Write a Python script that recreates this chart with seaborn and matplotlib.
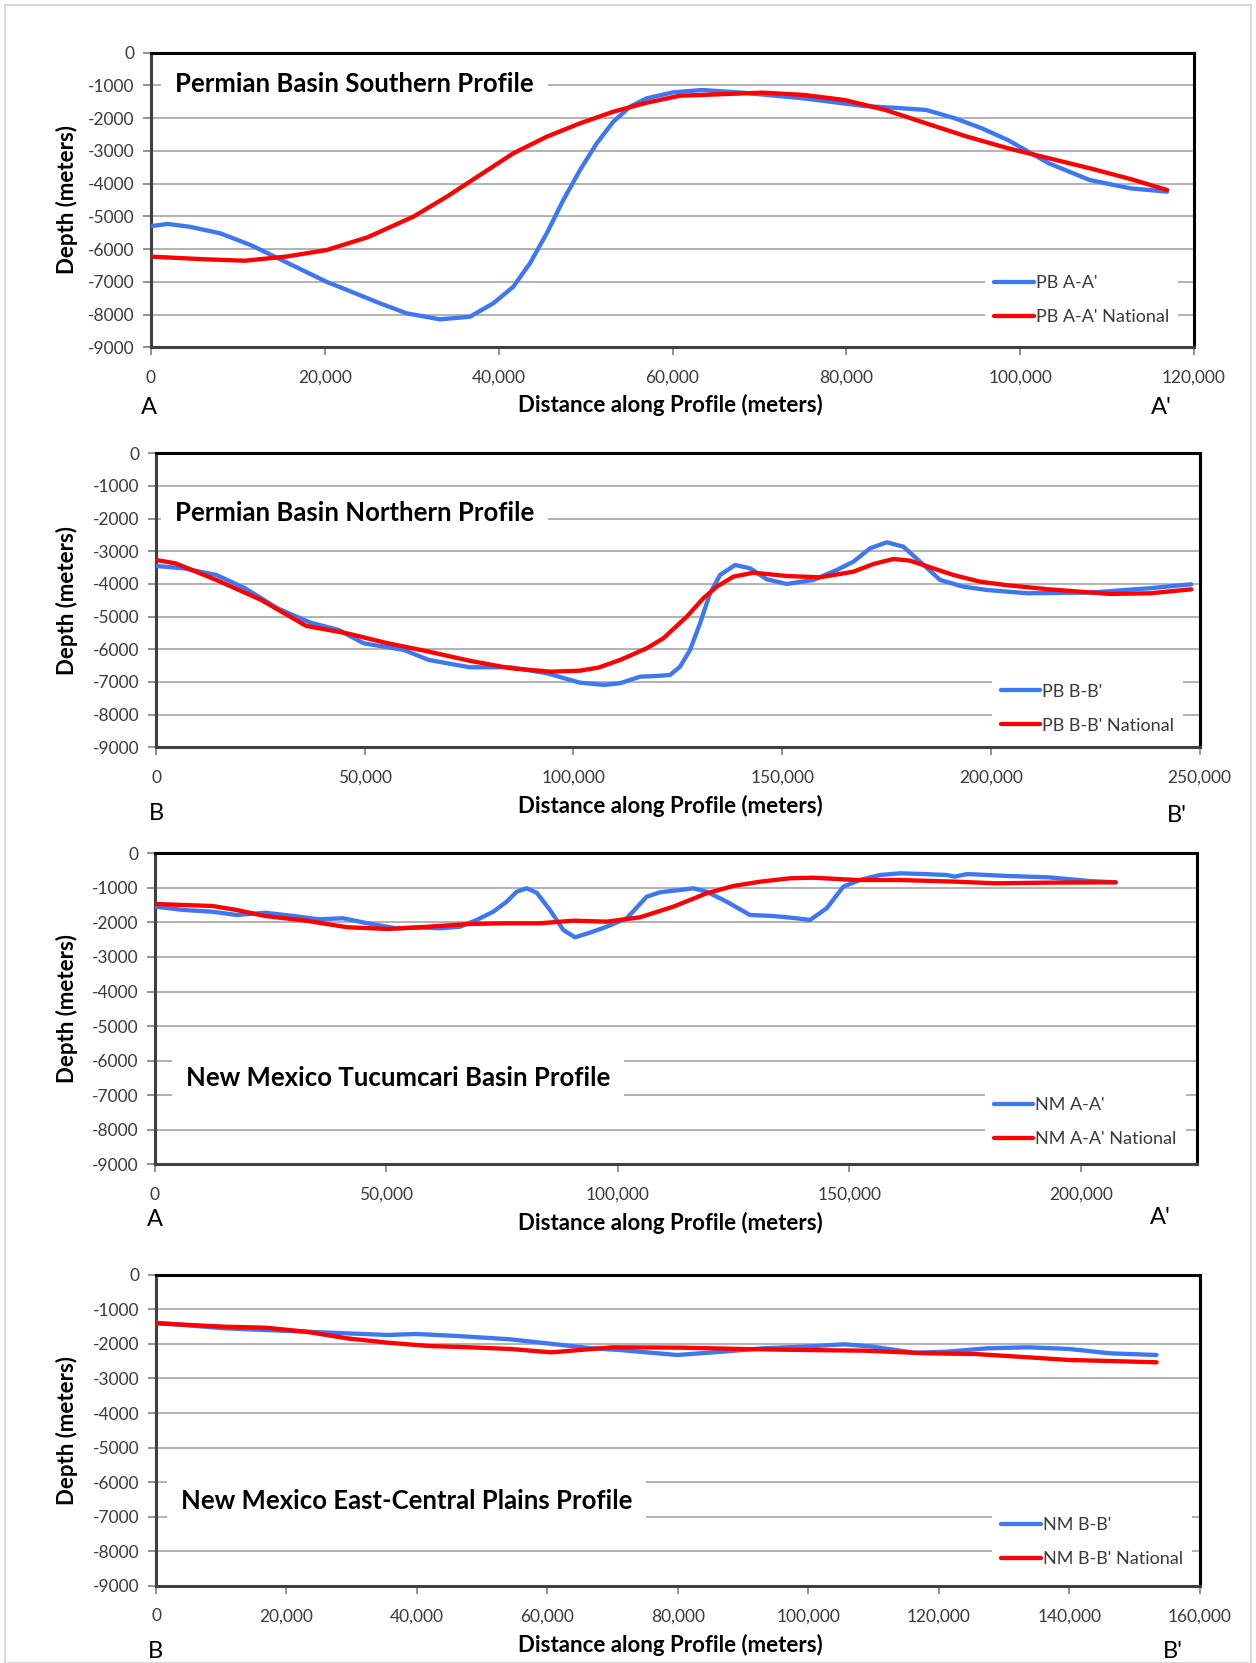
import matplotlib
matplotlib.use("Agg")
import matplotlib.pyplot as plt
import matplotlib.ticker as mticker
from matplotlib.patches import Rectangle
import seaborn as sns
import pandas as pd

# ---------------- data ----------------
pb_aa_x = [0, 1900, 4500, 8000, 11500, 15000, 20200, 23500, 26350, 29420, 33250, 36700, 39380, 41680, 43600,
           45530, 47440, 49360, 51280, 53190, 55110, 57030, 60090, 63400, 68000, 75100, 82100, 86000, 89200,
           92500, 95500, 98600, 103300, 108000, 112700, 116900]
pb_aa = [-5300, -5230, -5320, -5520, -5880, -6330, -7000, -7350, -7657, -7963, -8146, -8065, -7657, -7150, -6435,
         -5518, -4500, -3584, -2768, -2108, -1650, -1393, -1210, -1140, -1220, -1395, -1630, -1690, -1750,
         -2005, -2300, -2670, -3380, -3890, -4145, -4245]
pb_aa_nat_x = [0, 6100, 10800, 15500, 20200, 24900, 26350, 30180, 34020, 37850, 41680, 45530, 49360, 53190,
               57030, 60860, 63400, 70400, 75100, 79800, 84500, 89200, 93900, 98600, 103300, 108000, 112700, 116900]
pb_aa_nat = [-6230, -6310, -6355, -6230, -6030, -5640, -5468, -5010, -4400, -3737, -3074, -2566, -2157, -1802,
             -1528, -1314, -1290, -1220, -1290, -1445, -1750, -2160, -2565, -2920, -3225, -3530, -3860, -4195]

pb_bb_x = [0, 6600, 14500, 21300, 29100, 37000, 43800, 49700, 59400, 65300, 75100, 84900, 93700, 101500,
           107300, 111160, 115950, 119960, 123140, 125540, 127930, 130330, 132730, 135120, 138720, 142310,
           146310, 151100, 157470, 163080, 167070, 171060, 175060, 179040, 183040, 187830, 193410, 199100,
           208900, 223600, 238200, 248000]
pb_bb = [-3450, -3520, -3725, -4130, -4745, -5185, -5410, -5815, -6020, -6325, -6550, -6550, -6735, -7020,
         -7090, -7040, -6838, -6817, -6786, -6532, -6021, -5204, -4285, -3725, -3419, -3520,
         -3857, -4000, -3878, -3572, -3318, -2908, -2724, -2859, -3318, -3878, -4083, -4185,
         -4285, -4265, -4130, -4010]
pb_bb_nat_x = [0, 4700, 14500, 25200, 36000, 45700, 55500, 65300, 75100, 84900, 94600, 101500, 106000, 111160,
               117560, 121540, 127140, 131120, 134330, 138310, 143100, 151100, 159080, 167070, 171860, 176640,
               180640, 185430, 191010, 197410, 204000, 213900, 228500, 238200, 248000]
pb_bb_nat = [-3265, -3370, -3880, -4490, -5285, -5510, -5815, -6070, -6350, -6580, -6685, -6655, -6560, -6327,
             -5969, -5663, -5001, -4438, -4083, -3777, -3655, -3756, -3796, -3624, -3389, -3236,
             -3287, -3490, -3725, -3930, -4040, -4165, -4305, -4285, -4165]

nm_aa_x = [0, 6200, 12400, 17600, 23800, 30000, 35300, 40600, 45900, 52000, 58200, 61560, 65870, 69480, 73070,
           75960, 78120, 80280, 82440, 85310, 88190, 90710, 93950, 97560, 101880, 106200, 109070, 113390,
           116260, 119160, 123470, 128510, 133540, 138590, 141470, 145070, 148660, 152270, 156590, 160910,
           166000, 171000, 172700, 175400, 184200, 193000, 201800, 207500]
nm_aa = [-1545, -1640, -1690, -1785, -1720, -1815, -1910, -1880, -2025, -2170, -2150, -2170, -2124, -1930, -1690,
         -1400, -1111, -1013, -1140, -1641, -2219, -2431, -2297, -2124, -1881, -1256, -1128, -1062,
         -1013, -1111, -1400, -1785, -1814, -1881, -1930, -1591, -966, -773, -628, -579,
         -600, -628, -676, -600, -657, -695, -802, -840]
nm_aa_nat_x = [0, 6200, 12400, 17600, 23800, 32600, 41500, 50300, 59100, 67900, 75960, 83150, 90350, 97560,
               104750, 111940, 119160, 124900, 130670, 137150, 142180, 151550, 160910, 172700, 181500, 193000, 207500]
nm_aa_nat = [-1467, -1496, -1525, -1640, -1815, -1950, -2140, -2190, -2123, -2046, -2025, -2025, -1950, -1979,
             -1852, -1545, -1157, -946, -822, -723, -706, -773, -773, -820, -868, -849, -840]

nm_bb_x = [0, 10500, 23000, 35500, 39900, 46200, 54300, 59900, 66800, 71100, 79900, 86800, 93100, 99300,
           105600, 109900, 116200, 121200, 127500, 133700, 140000, 146200, 153400]
nm_bb = [-1387, -1550, -1648, -1743, -1714, -1772, -1868, -1984, -2128, -2177, -2322, -2226, -2128, -2081,
         -2012, -2081, -2255, -2226, -2128, -2099, -2148, -2272, -2322]
nm_bb_nat_x = [0, 10500, 16800, 23000, 29300, 35500, 41800, 48100, 54300, 60600, 65000, 70000, 80500, 89900,
               99300, 108700, 118100, 125600, 133700, 140000, 146200, 153400]
nm_bb_nat = [-1406, -1503, -1532, -1648, -1840, -1965, -2061, -2099, -2148, -2245, -2177, -2099, -2109, -2148,
             -2177, -2197, -2272, -2293, -2388, -2466, -2495, -2533]

titles = ["Permian Basin Southern Profile", "Permian Basin Northern Profile",
          "New Mexico Tucumcari Basin Profile", "New Mexico East-Central Plains Profile"]
series_names = [("PB A-A'", "PB A-A' National"), ("PB B-B'", "PB B-B' National"),
                ("NM A-A'", "NM A-A' National"), ("NM B-B'", "NM B-B' National")]
end_labels = [("A", "A'"), ("B", "B'"), ("A", "A'"), ("B", "B'")]
x_max = [120000, 250000, 225000, 160000]
x_step = [20000, 50000, 50000, 20000]
y_ticks = list(range(0, -10000, -1000))

# ---------------- style ----------------
sns.set_theme(style="white")
plt.rcParams['font.family'] = ['Lato', 'DejaVu Sans']

W, H = 1256, 1663
fig = plt.figure(figsize=(W / 100, H / 100), dpi=100)
fig.patch.set_facecolor("white")
fig.patches.append(Rectangle((5 / W, 0), 1 - 10 / W, 1 - 5 / H, transform=fig.transFigure,
                             fill=False, edgecolor="#D9D9D9", lw=1.5))

# pixel boxes: left, right, top, bottom
boxes = [(151, 1194, 52.7, 347.3), (156, 1199.6, 453.3, 747.3),
         (155, 1196.7, 853.3, 1164.3), (156, 1199.6, 1274.7, 1586)]
title_pos = [(175, 84), (175, 513), (186, 1078), (181, 1501)]
xlabel_y = [405, 806, 1223, 1645]
end_pos = [((148.5, 408), (1161.5, 408)), ((156, 813), (1177, 816)),
           ((155, 1220), (1160, 1218)), ((155, 1651), (1173, 1651))]
legend_anchor = [(0.800, 0.1595), (0.8007, 0.131), (0.7965, 0.136), (0.8015, 0.1413)]

data = [(pb_aa_x, pb_aa, pb_aa_nat_x, pb_aa_nat), (pb_bb_x, pb_bb, pb_bb_nat_x, pb_bb_nat),
        (nm_aa_x, nm_aa, nm_aa_nat_x, nm_aa_nat), (nm_bb_x, nm_bb, nm_bb_nat_x, nm_bb_nat)]

BLUE = "#3D77F2"
RED = "#FF0000"
TICK_COLOR = "#3a3a3a"
LW = 3.1

for i in range(4):
    l, r, t, b = boxes[i]
    ax = fig.add_axes([l / W, 1 - b / H, (r - l) / W, (b - t) / H])
    bx, by, rx, ry = data[i]
    nb, nr = series_names[i]
    df_b = pd.DataFrame({"x": bx, "y": by})
    df_r = pd.DataFrame({"x": rx, "y": ry})
    sns.lineplot(data=df_b, x="x", y="y", ax=ax, color=BLUE, lw=LW, label=nb,
                 sort=False, estimator=None, solid_capstyle="round", solid_joinstyle="round", zorder=4)
    sns.lineplot(data=df_r, x="x", y="y", ax=ax, color=RED, lw=LW, label=nr,
                 sort=False, estimator=None, solid_capstyle="round", solid_joinstyle="round", zorder=5)

    ax.set_xlim(0, x_max[i])
    ax.set_ylim(-9000, 0)
    ax.set_yticks(y_ticks)
    ax.set_xticks(list(range(0, x_max[i] + 1, x_step[i])))
    ax.xaxis.set_major_formatter(mticker.FuncFormatter(lambda v, p: f"{int(v):,}"))
    ax.yaxis.set_major_formatter(mticker.FuncFormatter(lambda v, p: f"{int(v)}"))
    ax.grid(axis="y", color="#A6A6A6", lw=1.2, zorder=0)
    ax.grid(axis="x", visible=False)
    ax.set_axisbelow(True)
    ax.tick_params(axis="both", which="major", direction="out", length=6, width=1.2,
                   color="#7F7F7F", labelsize=12.5, labelcolor=TICK_COLOR, pad=6,
                   left=True, bottom=True)
    ax.tick_params(axis="x", pad=10)
    for side in ["top", "right"]:
        ax.spines[side].set_color("black")
        ax.spines[side].set_linewidth(2.2)
    for side in ["left", "bottom"]:
        ax.spines[side].set_color("#404040")
        ax.spines[side].set_linewidth(2.2)
    ax.set_xlabel("")
    ax.set_ylabel("Depth (meters)", fontsize=16, fontweight="bold", color="black")
    ax.yaxis.label.set_va("center")
    ax.yaxis.set_label_coords((67 - l) / (r - l), 0.5)

    # title inside plot
    tx, ty = title_pos[i]
    ax.text((tx - l) / (r - l), (b - ty) / (b - t), titles[i], transform=ax.transAxes,
            fontsize=18.5, fontweight="bold", color="black", ha="left", va="center", zorder=6,
            bbox=dict(facecolor="white", edgecolor="none", pad=10))

    leg = ax.legend(loc="center left", bbox_to_anchor=legend_anchor[i], frameon=True,
                    fontsize=13, handlelength=2.2, handletextpad=0.1, labelspacing=1.0,
                    borderpad=0.5, borderaxespad=0, fancybox=False)
    leg.get_frame().set_facecolor("white")
    leg.get_frame().set_edgecolor("none")
    leg.get_frame().set_alpha(1)
    for txt in leg.get_texts():
        txt.set_color(TICK_COLOR)
    for ln in leg.get_lines():
        ln.set_linewidth(LW)

    # x label and end labels (figure coords)
    fig.text(670 / W, 1 - xlabel_y[i] / H, "Distance along Profile (meters)", fontsize=16,
             fontweight="bold", ha="center", va="center", color="black")
    (ax0, ay0), (ax1, ay1) = end_pos[i]
    fig.text(ax0 / W, 1 - ay0 / H, end_labels[i][0], fontsize=17, ha="center", va="center", color="black")
    fig.text(ax1 / W, 1 - ay1 / H, end_labels[i][1], fontsize=17, ha="center", va="center", color="black")

fig.savefig("out.png", dpi=100, facecolor="white")
